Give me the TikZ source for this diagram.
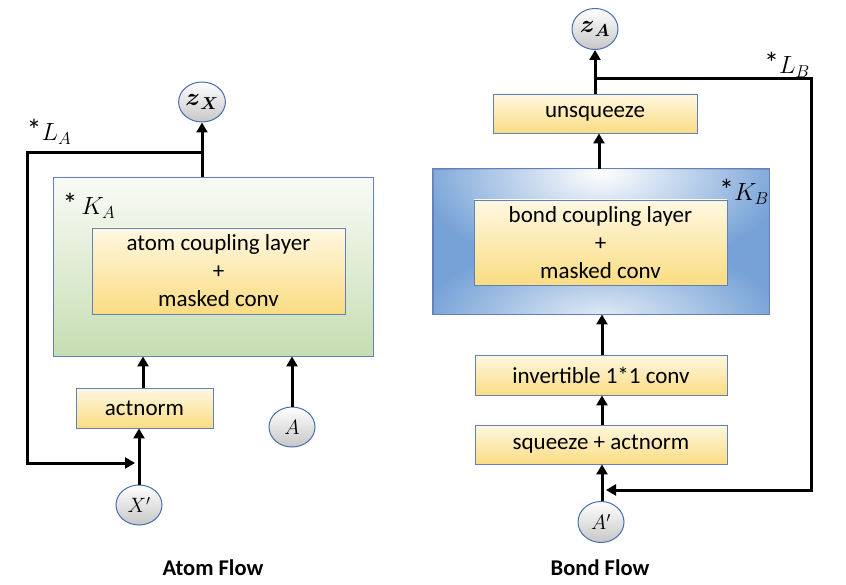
\documentclass[tikz,border=0pt]{standalone}
\usepackage{amsmath}
\usepackage{fontspec}
\setmainfont{Carlito}
\usetikzlibrary{arrows.meta,shapes.geometric,fadings}
\definecolor{bordc}{RGB}{100,128,186}
\definecolor{yTop}{RGB}{255,248,226}
\definecolor{yBot}{RGB}{250,220,130}
\definecolor{gTop}{RGB}{249,251,246}
\definecolor{gBot}{RGB}{198,222,178}
\definecolor{blueA}{RGB}{118,162,215}
\definecolor{circB}{RGB}{72,110,172}
\tikzfading[name=glowfade, inner color=transparent!0, outer color=transparent!100]
\newcommand{\bigast}{{\fontsize{30}{30}\selectfont *}}
\begin{document}
\begin{tikzpicture}[x=1pt,y=-1pt,
  ybox/.style={draw=bordc, line width=0.9pt, top color=yTop, bottom color=yBot, inner sep=0pt, align=center, font=\fontsize{23}{28}\selectfont},
  gbox/.style={draw=bordc, line width=0.9pt, top color=gTop, bottom color=gBot, inner sep=0pt},
  bbox/.style={draw=bordc, line width=0.9pt, inner sep=0pt},
  circ/.style={ellipse, draw=circB, line width=1pt, top color=white, bottom color=black!22, inner sep=0pt, minimum width=46pt, minimum height=40pt, font=\fontsize{22}{26}\selectfont},
  zcirc/.style={circ, font=\fontsize{25}{28}\selectfont},
  arr/.style={line width=3pt, -{Triangle[length=10pt,width=11pt]}},
  lbl/.style={inner sep=0pt, font=\fontsize{23}{26}\selectfont},
  ttl/.style={inner sep=0pt, font=\fontsize{22.5}{26}\selectfont\bfseries}]
\useasboundingbox (0,0) rectangle (846,585);

% ---------- Atom flow ----------
\node[gbox, minimum width=320pt, minimum height=179pt] (green) at (213,266.5) {};
\node[ybox, minimum width=253pt, minimum height=86pt] (acl) at (218.5,271) {atom coupling layer\\+\\masked conv};
\node[lbl] (ka) at (89,206) {\bigast\,$K_A$};
\node[ybox, minimum width=137pt, minimum height=40pt] (actn) at (144.5,408) {actnorm};
\node[zcirc] (zx) at (202,102) {$\boldsymbol{z}_{\boldsymbol{X}}$};
\node[circ] (xp) at (139,505) {$X'$};
\node[circ] (a) at (292,427) {$A$};
\node[lbl] (la) at (49,132) {\bigast$L_A$};
\node[ttl] (atomt) at (213,568) {Atom Flow};

\coordinate (la1) at (202,153);
\coordinate (la2) at (27,153);
\coordinate (la3) at (27,463);
\coordinate (la4) at (135,463);

\draw[arr] (green.north -| zx) -- (zx.south);
\draw[arr] (la1) -- (la2) -- (la3) -- (la4);
\draw[arr] (actn.north -| 143,0) -- (green.south -| 143,0);
\draw[arr] (xp.north) -- (xp.north |- actn.south);
\draw[arr] (a.north) -- (a.north |- green.south);

% ---------- Bond flow ----------
\node[bbox, fill=blueA, minimum width=336pt, minimum height=145pt] (blue) at (601,241.5) {};
\begin{scope}
  \clip (blue.north west) rectangle (blue.south east);
  \fill[white, path fading=glowfade] (601,172) ellipse (185pt and 100pt);
  \fill[white, opacity=0.8, path fading=glowfade] (601,318) ellipse (180pt and 75pt);
\end{scope}
\draw[bordc, line width=0.9pt] (blue.north west) rectangle (blue.south east);
\node[ybox, minimum width=253pt, minimum height=85pt] (bcl) at (600.5,242.5) {bond coupling layer\\+\\masked conv};
\node[lbl] (kb) at (744,192) {\bigast$K_B$};
\node[ybox, minimum width=204pt, minimum height=39pt] (unsq) at (595,113.5) {unsqueeze};
\node[ybox, minimum width=252pt, minimum height=40pt] (inv) at (601,375) {invertible 1*1 conv};
\node[ybox, minimum width=252pt, minimum height=39pt] (sq) at (601,444.5) {squeeze + actnorm};
\node[zcirc, minimum height=41pt] (za) at (595,29) {$\boldsymbol{z}_{\boldsymbol{A}}$};
\node[circ, minimum height=41pt] (ap) at (601,522) {$A'$};
\node[lbl] (lb) at (787,65) {\bigast$L_B$};
\node[ttl] (bondt) at (600,568) {Bond Flow};

\coordinate (lb1) at (595,79);
\coordinate (lb2) at (811,79);
\coordinate (lb3) at (811,490);
\coordinate (lb4) at (606,490);

\draw[arr] (unsq.north -| za) -- (za.south);
\draw[arr] (lb1) -- (lb2) -- (lb3) -- (lb4);
\draw[arr] (blue.north -| 599,0) -- (unsq.south -| 599,0);
\draw[arr] (inv.north -| 602,0) -- (blue.south -| 602,0);
\draw[arr] (sq.north -| 602,0) -- (inv.south -| 602,0);
\draw[arr] (ap.north -| 602,0) -- (sq.south -| 602,0);
\end{tikzpicture}
\end{document}
